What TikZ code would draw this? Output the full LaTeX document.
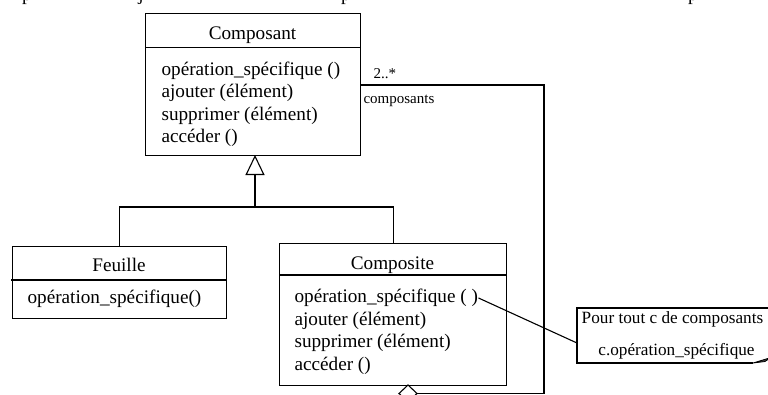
\documentclass[tikz,border=0pt]{standalone}
\usepackage{fontspec}
\setmainfont{Liberation Serif}
\usetikzlibrary{arrows.meta}
\begin{document}
\begin{tikzpicture}[x=1bp,y=-1bp,
  line width=1.1bp,
  big/.style={font=\fontsize{19.2bp}{22bp}\selectfont, inner sep=0pt},
  small/.style={font=\fontsize{15bp}{18bp}\selectfont, inner sep=0pt},
  notefont/.style={font=\fontsize{17.2bp}{20bp}\selectfont, inner sep=0pt},
  classbox/.style={draw, inner sep=0pt, anchor=north west},
  inherit/.style={-{Triangle[open,length=20bp,width=19bp]}}]
\useasboundingbox (0,0) rectangle (768,394);

% descenders of the text line cut by the top edge
\node[big, anchor=base] (fragA) at (27,0) {p};
\node[big, anchor=base] (fragB) at (141,0) {j};
\node[big, anchor=base] (fragC) at (346,0) {p};
\node[big, anchor=base] (fragD) at (693,0) {p};

% ---- class Composant ----
\node[classbox, minimum width=215bp, minimum height=142bp] (composant) at (145,13) {};
\draw (145,47.5) -- (360,47.5);
\node[big, anchor=base] (composantT) at (252.5,39.3) {Composant};
\node[big, anchor=base west] (cm1) at (161,75) {opération\_spécifique ()};
\node[big, anchor=base west] (cm2) at (161,97.5) {ajouter (élément)};
\node[big, anchor=base west] (cm3) at (161,120) {supprimer (élément)};
\node[big, anchor=base west] (cm4) at (161,142.5) {accéder ()};

% ---- class Feuille ----
\node[classbox, minimum width=214bp, minimum height=72bp] (feuille) at (12,246) {};
\draw (11,280) -- (227,280);
\node[big, anchor=base] (feuilleT) at (119,271.7) {Feuille};
\node[big, anchor=base west] (fm1) at (27,303.3) {opération\_spécifique()};

% ---- class Composite ----
\node[classbox, minimum width=227bp, minimum height=142bp] (composite) at (279,243) {};
\draw (279,275) -- (506,275);
\node[big, anchor=base] (compositeT) at (392.5,269) {Composite};
\node[big, anchor=base west] (pm1) at (294,302.7) {opération\_spécifique ( )};
\node[big, anchor=base west] (pm2) at (294,325) {ajouter (élément)};
\node[big, anchor=base west] (pm3) at (294,347.3) {supprimer (élément)};
\node[big, anchor=base west] (pm4) at (294,370) {accéder ()};

% ---- generalisation ----
\coordinate (hub) at (255,207);
\coordinate (inhTop) at (255,155);
\draw (feuille.north) |- (hub) -| (composite.north);
\draw[inherit] (hub) -- (inhTop);

% ---- aggregation Composite <>-- Composant ----
\coordinate (dmdTop) at (408,385);
\coordinate (dmdR) at (417,393.5);
\coordinate (dmdBot) at (408,402);
\coordinate (dmdL) at (399,393.5);
\draw[fill=white] (dmdTop) -- (dmdR) -- (dmdBot) -- (dmdL) -- cycle;
\coordinate (corner) at (544,85);
\draw (dmdR) -| (corner) -- (composant.east |- corner);
\node[small, anchor=base west] (mult) at (373,78.3) {2..*};
\node[small, anchor=base west] (role) at (363,103.3) {composants};

% ---- note ----
\coordinate (noteIn) at (577,343);
\draw (780,308) -- (577,308) -- (577,363) -- (753,363);
\draw[fill=black!75, line width=0.8bp] (753,363) -- (771,357.5) -- (765,361.5) -- cycle;
\node[notefont, anchor=base] (noteA) at (672.5,323.3) {Pour tout c de composants};
\node[notefont, anchor=base] (noteB) at (676.5,355) {c.opération\_spécifique};
\draw (pm1.east) -- (noteIn);
\end{tikzpicture}
\end{document}
